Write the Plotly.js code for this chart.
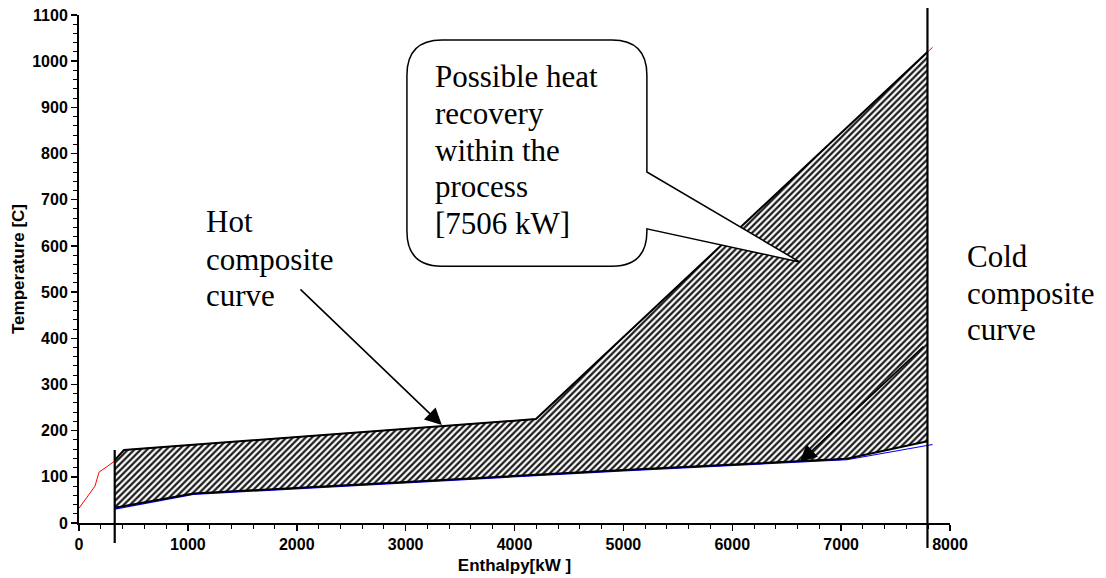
<!DOCTYPE html>
<html>
<head>
<meta charset="utf-8">
<script src="https://cdn.plot.ly/plotly-3.0.1.min.js"></script>
<style>html,body{margin:0;padding:0;background:#fff;}</style>
</head>
<body>
<div id="chart" style="width:1106px;height:578px;"></div>
<script>
// Hot composite curve (red)
const hotX = [0, 147, 184, 328, 413, 4197, 7840];
const hotY = [32, 80, 110, 134, 158, 225, 1030];
// Cold composite curve (blue)
const coldX = [328, 1050, 3000, 5000, 7052, 7840];
const coldY = [30, 62, 87, 113, 137, 170];
// Heat recovery region boundaries (black outline, hatched)
const regionTopX = [328, 413, 4197, 7793];
const regionTopY = [136, 158, 225, 1020];
const regionBotX = [328, 1050, 3000, 5000, 7052, 7793];
const regionBotY = [33, 64, 89, 115, 139, 177];
// Vertical bounds of the recovery region
const leftBoundX = 328;
const rightBoundX = 7793;
// Axis ticks
const xTicks = [0, 1000, 2000, 3000, 4000, 5000, 6000, 7000, 8000];
const yTicks = [0, 100, 200, 300, 400, 500, 600, 700, 800, 900, 1000, 1100];

const polyX = regionTopX.concat(regionBotX.slice().reverse());
const polyY = regionTopY.concat(regionBotY.slice().reverse());

const serif = '"Liberation Serif", "Times New Roman", serif';
const sans = '"Liberation Sans", Arial, sans-serif';

const traces = [
  {x: polyX, y: polyY, type: 'scatter', mode: 'lines', fill: 'toself',
   fillcolor: 'white',
   fillpattern: {shape: '/', fgcolor: '#1a1a1a', bgcolor: 'white', size: 4.5, solidity: 0.5},
   line: {width: 0, color: 'rgba(0,0,0,0)'}, hoverinfo: 'skip', showlegend: false},
  {x: hotX, y: hotY, type: 'scatter', mode: 'lines', line: {color: '#ff0000', width: 1}, showlegend: false},
  {x: coldX, y: coldY, type: 'scatter', mode: 'lines', line: {color: '#0000ff', width: 1.2}, showlegend: false},
  {x: regionTopX, y: regionTopY, type: 'scatter', mode: 'lines', line: {color: '#000', width: 2}, showlegend: false},
  {x: regionBotX, y: regionBotY, type: 'scatter', mode: 'lines', line: {color: '#000', width: 2}, showlegend: false}
];

// plot-area helpers for placing text (paper coords)
const L = 79, T = 15, W = 871, H = 508;
const px = v => (v - L) / W;
const py = v => (T + H - v) / H;

function lines(arr, x0, baselines, size) {
  return arr.map((t, i) => ({
    text: t, xref: 'paper', yref: 'paper', x: px(x0), y: py(baselines[i] - size * 0.36),
    xanchor: 'left', yanchor: 'middle', showarrow: false,
    font: {family: serif, size: size, color: '#000'}
  }));
}

const fs = 31;
let annotations = [];
annotations = annotations.concat(lines(['Possible heat', 'recovery', 'within the', 'process', '[7506 kW]'], 433, [88, 125, 162, 198, 235], fs));
annotations = annotations.concat(lines(['Hot', 'composite', 'curve'], 204, [233, 271, 307], fs));
annotations = annotations.concat(lines(['Cold', 'composite', 'curve'], 965, [268, 305, 341], fs));

annotations.push({x: 3333, y: 212, xref: 'x', yref: 'y', ax: 2020, ay: 509, axref: 'x', ayref: 'y',
  text: '', showarrow: true, arrowhead: 2, arrowsize: 2.1, arrowwidth: 1.6, arrowcolor: '#000', standoff: 0});
annotations.push({x: 6621, y: 132, xref: 'x', yref: 'y', ax: 7770, ay: 385, axref: 'x', ayref: 'y',
  text: '', showarrow: true, arrowhead: 2, arrowsize: 2.1, arrowwidth: 1.6, arrowcolor: '#000', standoff: 0});

// Callout bubble (data coordinates)
const cL = 3012, cR = 5216, cT = 1046, cB = 556, rx = 321, ry = 76;
const p1 = 760, p2 = 637, tipX = 6621, tipY = 565;
const calloutPath =
  `M${cL + rx},${cT} L${cR - rx},${cT} Q${cR},${cT} ${cR},${cT - ry} L${cR},${p1} L${tipX},${tipY} L${cR},${p2} ` +
  `L${cR},${cB + ry} Q${cR},${cB} ${cR - rx},${cB} L${cL + rx},${cB} Q${cL},${cB} ${cL},${cB + ry} ` +
  `L${cL},${cT - ry} Q${cL},${cT} ${cL + rx},${cT} Z`;

const shapes = [
  {type: 'path', xref: 'x', yref: 'y', path: calloutPath, fillcolor: 'white', line: {color: '#000', width: 1.5}, layer: 'above'},
  {type: 'line', xref: 'x', yref: 'paper', x0: leftBoundX, x1: leftBoundX, y0: py(450), y1: py(543), line: {color: '#000', width: 2.2}},
  {type: 'line', xref: 'x', yref: 'paper', x0: rightBoundX, x1: rightBoundX, y0: py(8), y1: py(548), line: {color: '#000', width: 2.2}}
];

const tf = {family: sans, size: 16, color: '#000', weight: 'bold'};
const ttf = {family: sans, size: 17, color: '#000', weight: 'bold'};
const layout = {
  width: 1106, height: 578,
  margin: {l: L, r: 1106 - L - W, t: T, b: 578 - T - H, pad: 0},
  paper_bgcolor: 'white', plot_bgcolor: 'white',
  showlegend: false,
  xaxis: {
    range: [0, 8000], tickvals: xTicks, ticktext: xTicks.map(String),
    showgrid: false, zeroline: false, showline: true, linecolor: '#000', linewidth: 2,
    ticks: 'outside', ticklen: 6, tickwidth: 1.5, tickcolor: '#000',
    minor: {dtick: 200, ticks: 'outside', ticklen: 4, tickwidth: 1, tickcolor: '#000', showgrid: false},
    tickfont: tf,
    title: {text: 'Enthalpy[kW ]', font: ttf, standoff: 7}
  },
  yaxis: {
    range: [0, 1100], tickvals: yTicks, ticktext: yTicks.map(String),
    showgrid: false, zeroline: false, showline: true, linecolor: '#000', linewidth: 2,
    ticks: 'outside', ticklen: 6, tickwidth: 1.5, tickcolor: '#000',
    minor: {dtick: 20, ticks: 'outside', ticklen: 4, tickwidth: 1, tickcolor: '#000', showgrid: false},
    tickfont: tf,
    title: {text: 'Temperature [C]', font: ttf, standoff: 3}
  },
  annotations: annotations,
  shapes: shapes
};

Plotly.newPlot('chart', traces, layout, {displayModeBar: false, staticPlot: true});
</script>
</body>
</html>
